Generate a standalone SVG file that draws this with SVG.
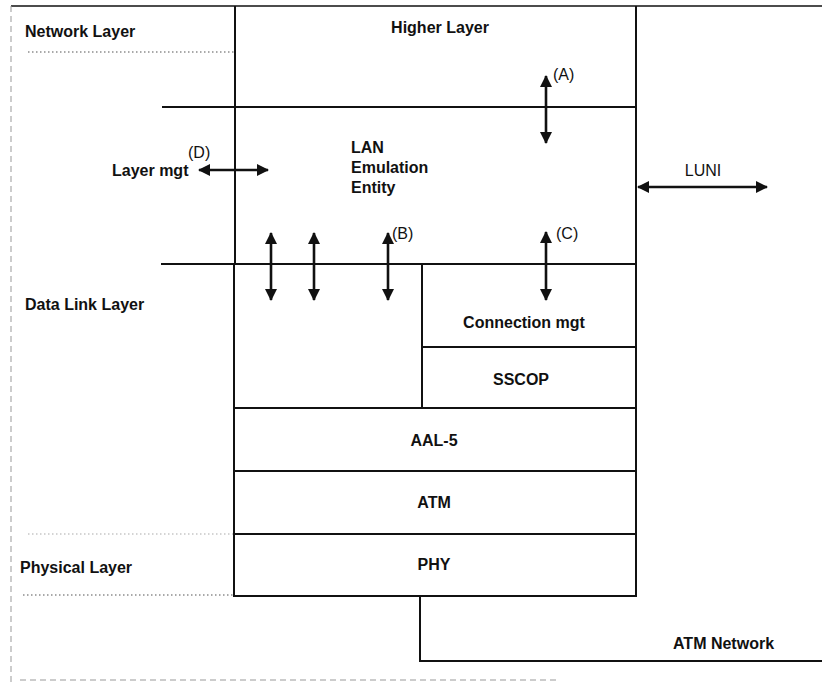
<svg xmlns="http://www.w3.org/2000/svg" width="822" height="682" viewBox="0 0 822 682">
<style>
text{font-family:"Liberation Sans",Arial,sans-serif;font-size:16px;fill:#111;font-weight:bold}
.lbl{font-weight:normal}
.mid{text-anchor:middle}
.ln{stroke:#111;stroke-width:2;fill:none}
.dot{stroke:#555;stroke-width:1.2;stroke-dasharray:1.5 2.5;fill:none}
.faint{stroke:#999;stroke-width:1;stroke-dasharray:6 4;fill:none}
.arr{stroke:#111;stroke-width:2.6;fill:none;marker-start:url(#ah);marker-end:url(#ah)}
</style>
<defs>
<marker id="ah" viewBox="0 0 12 12" refX="11" refY="6" markerWidth="12" markerHeight="12" markerUnits="userSpaceOnUse" orient="auto-start-reverse">
<path d="M0,0 L12,6 L0,12 z" fill="#111"/>
</marker>
</defs>
<rect width="822" height="682" fill="#fff"/>
<g id="frame">
<line class="ln" x1="11" y1="6" x2="822" y2="6" style="stroke-width:1.6"/>
<line class="faint" x1="11" y1="6" x2="11" y2="682"/>
<line class="faint" x1="20" y1="680" x2="560" y2="680"/>
</g>
<g id="layer-labels">
<text x="25" y="37">Network Layer</text>
<line class="dot" x1="28" y1="52" x2="234" y2="52"/>
<text x="25" y="310">Data Link Layer</text>
<line class="dot" x1="28" y1="534" x2="234" y2="534" style="stroke:#aaa"/>
<text x="20" y="573">Physical Layer</text>
<line class="dot" x1="23" y1="595" x2="234" y2="595"/>
</g>
<g id="higher-layer">
<line class="ln" x1="235" y1="6" x2="235" y2="107"/>
<line class="ln" x1="636" y1="6" x2="636" y2="107"/>
<line class="ln" x1="162" y1="107" x2="636" y2="107"/>
<text class="mid" x="440" y="33">Higher Layer</text>
</g>
<g id="lan-emulation-entity">
<line class="ln" x1="235" y1="107" x2="235" y2="264"/>
<line class="ln" x1="636" y1="107" x2="636" y2="264"/>
<line class="ln" x1="161" y1="264" x2="636" y2="264"/>
<text x="351" y="153">LAN</text>
<text x="351" y="173">Emulation</text>
<text x="351" y="193">Entity</text>
</g>
<g id="le-service-area">
<line class="ln" x1="234" y1="264" x2="234" y2="408"/>
<line class="ln" x1="422" y1="264" x2="422" y2="408"/>
</g>
<g id="connection-mgt">
<rect class="ln" x="422" y="264" width="214" height="83"/>
<text class="mid" x="524" y="328">Connection mgt</text>
</g>
<g id="sscop">
<rect class="ln" x="422" y="347" width="214" height="61"/>
<text class="mid" x="521" y="385">SSCOP</text>
</g>
<g id="aal5">
<rect class="ln" x="234" y="408" width="402" height="63"/>
<text class="mid" x="434" y="446">AAL-5</text>
</g>
<g id="atm">
<rect class="ln" x="234" y="471" width="402" height="63"/>
<text class="mid" x="434" y="508">ATM</text>
</g>
<g id="phy">
<rect class="ln" x="234" y="534" width="402" height="62"/>
<text class="mid" x="434" y="570">PHY</text>
</g>
<g id="atm-network">
<polyline class="ln" points="420,596 420,661 822,661"/>
<text x="673" y="649">ATM  Network</text>
</g>
<g id="layer-mgt">
<text x="112" y="176">Layer mgt</text>
</g>
<g id="connectors">
<line class="arr" x1="546" y1="76" x2="546" y2="143"/>
<text class="lbl" x="553" y="80">(A)</text>
<line class="arr" x1="271" y1="233" x2="271" y2="300"/>
<line class="arr" x1="314" y1="233" x2="314" y2="300"/>
<line class="arr" x1="388" y1="233" x2="388" y2="300"/>
<text class="lbl" x="392" y="239">(B)</text>
<line class="arr" x1="546" y1="232" x2="546" y2="300"/>
<text class="lbl" x="556" y="239">(C)</text>
<line class="arr" x1="199" y1="170" x2="268" y2="170"/>
<text class="lbl" x="188" y="158">(D)</text>
<line class="arr" x1="638" y1="187" x2="767" y2="187"/>
<text class="lbl mid" x="703" y="176">LUNI</text>
</g>
</svg>
